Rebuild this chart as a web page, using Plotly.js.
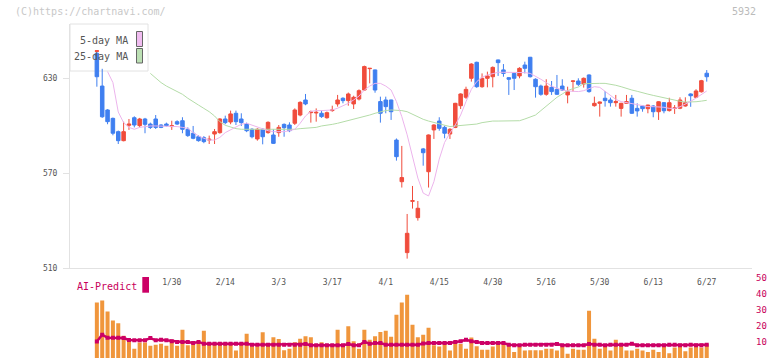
<!DOCTYPE html>
<html><head><meta charset="utf-8">
<script src="https://cdn.plot.ly/plotly-3.0.1.min.js"></script>
<style>html,body{margin:0;padding:0;background:#fff}#chart{width:772px;height:361px}</style>
</head><body><div id="chart"></div>
<script>
const dates = ['1/9','1/10','1/14','1/15','1/16','1/17','1/20','1/21','1/22','1/23','1/24','1/27','1/28','1/29','1/30','1/31',
'2/3','2/4','2/5','2/6','2/7','2/10','2/12','2/13','2/14',
'2/17','2/18','2/19','2/20','2/21','2/25','2/26','2/27','2/28',
'3/3','3/4','3/5','3/6','3/7','3/10','3/11','3/12','3/13','3/14',
'3/17','3/18','3/19','3/21','3/24','3/25','3/26','3/27','3/28','3/31',
'4/1','4/2','4/3','4/4','4/7','4/8','4/9','4/10','4/11','4/14',
'4/15','4/16','4/17','4/18','4/21','4/22','4/23','4/24','4/25','4/28',
'4/30','5/1','5/2','5/7','5/8','5/9','5/12','5/13','5/14','5/15',
'5/16','5/19','5/20','5/21','5/22','5/23','5/26','5/27','5/28','5/29',
'5/30','6/2','6/3','6/4','6/5','6/6','6/9','6/10','6/11','6/12',
'6/13','6/16','6/17','6/18','6/19','6/20','6/23','6/24','6/25','6/26','6/27'];

const tickLabels = ['1/30','2/14','3/3','3/17','4/1','4/15','4/30','5/16','5/30','6/13','6/27'];

// small red mark drawn over the first candle
const markDate = ['1/9'], markOpen = [647.0], markHigh = [647.6], markLow = [646.8], markClose = [647.4];

const open = [645.8,625.1,610.0,604.7,596.3,590.6,600.3,605.1,600.1,604.3,601.1,604.3,600.5,601.1,599.5,602.6,603.2,597.8,595.3,
593.1,592.5,591.0,594.8,595.7,604.3,602.4,607.9,604.3,601.1,597.8,591.7,597.8,595.7,594.2,595.7,600.9,600.5,601.6,606.8,
616.3,608.3,608.1,607.9,605.1,609.6,613.8,617.4,615.9,613.8,616.9,622.6,636.1,635.3,615.3,616.3,616.3,591.0,564.7,519.9,
552.3,542.0,585.4,571.0,597.4,603.0,599.0,594.8,599.0,612.7,618.0,630.0,640.1,624.7,630.0,631.0,641.6,635.3,630.4,633.1,
631.5,638.4,643.3,629.4,625.1,619.9,624.3,623.0,625.1,619.5,628.1,628.3,626.4,632.1,612.7,614.2,617.4,616.3,614.6,611.0,
614.2,617.4,611.0,612.5,610.8,612.5,608.9,614.6,609.6,611.0,611.1,612.5,620.1,618.0,621.5,633.2];
const high = [646.2,636.0,610.5,605.2,597.0,602.6,604.3,606.0,605.0,605.0,602.0,606.8,601.0,602.0,603.2,603.5,605.4,599.0,599.9,
594.0,593.5,593.8,598.0,604.8,606.4,609.6,609.6,607.9,602.0,598.5,598.5,598.5,602.8,597.8,600.5,601.5,602.2,611.0,615.5,
620.1,609.6,611.0,609.6,609.0,612.7,619.5,618.0,621.0,619.0,623.0,638.0,636.5,635.5,618.4,618.4,616.5,592.0,587.3,544.3,
562.0,552.5,586.0,594.5,601.0,605.4,600.0,598.5,614.5,620.5,624.7,639.5,640.5,633.1,634.2,637.5,641.8,639.0,630.8,634.0,
637.0,640.5,643.5,630.0,626.0,629.4,628.3,632.1,629.4,624.7,628.5,630.0,630.5,632.5,618.4,615.3,622.0,617.8,619.5,614.5,
619.5,619.5,614.2,613.1,613.3,613.0,615.5,615.0,617.7,613.1,618.0,618.0,620.5,623.1,629.0,635.2];
const low = [624.7,605.0,601.0,594.0,588.5,590.2,597.4,599.0,599.0,595.3,598.0,598.0,598.5,599.5,597.4,600.5,595.3,593.0,591.5,
590.0,589.0,588.5,588.5,595.0,601.0,601.0,600.5,599.9,596.0,592.1,590.6,588.3,595.0,588.5,593.1,593.1,596.0,600.5,606.0,
613.0,602.0,602.6,605.0,604.5,608.9,612.1,614.2,612.7,610.6,616.0,622.0,626.8,620.9,602.0,607.9,603.7,578.0,561.0,516.1,
547.7,540.1,574.8,561.0,591.7,596.9,592.1,591.7,598.5,610.6,617.0,627.9,624.0,624.0,624.3,624.3,631.5,631.0,619.5,622.6,
630.0,633.1,630.5,617.8,619.0,619.0,619.5,619.5,622.0,614.2,621.6,625.1,624.1,620.9,612.1,605.8,612.1,612.1,612.1,605.8,
614.0,607.5,605.8,608.9,607.9,605.4,603.7,607.9,609.0,607.5,610.5,612.1,612.0,617.5,621.0,627.9];
const close = [631.0,605.7,602.6,595.3,590.6,596.3,601.1,600.5,604.3,600.9,599.0,599.0,599.0,600.1,600.1,601.1,597.8,593.8,592.1,
590.6,590.0,591.5,596.3,604.3,602.0,607.5,602.6,602.0,596.9,593.1,597.8,593.1,602.2,588.9,599.0,598.8,596.9,610.0,614.8,
613.8,608.7,608.5,605.8,608.3,610.0,616.3,615.9,620.1,618.0,622.2,637.4,636.3,622.6,607.9,612.1,608.9,580.5,567.3,532.1,
552.7,547.9,583.0,594.2,600.5,598.4,595.3,597.8,614.2,620.1,623.0,639.0,624.7,630.0,631.5,636.9,639.9,633.1,629.4,630.0,
636.3,636.3,631.0,624.7,619.9,625.1,621.6,619.9,622.6,621.6,628.3,626.2,630.0,621.6,614.2,615.0,615.9,614.6,615.3,614.2,
615.3,607.9,609.4,610.8,613.1,608.9,615.2,609.5,614.6,611.3,616.3,614.6,619.0,622.0,628.5,631.0];

const ma5 = [null,null,634.2,627.3,608.7,602.0,599.0,597.8,599.0,599.5,599.9,599.9,599.9,599.9,599.9,599.5,599.0,598.4,595.7,
593.6,592.1,591.0,591.0,592.7,595.7,597.6,599.5,601.0,601.6,600.5,599.5,598.4,596.9,596.3,596.3,596.3,596.9,597.8,601.6,
606.2,609.1,609.6,609.6,609.6,610.0,611.1,612.5,614.2,616.3,618.8,622.6,625.1,626.8,626.8,625.1,622.6,615.3,605.8,594.3,
580.5,567.0,557.5,555.7,564.7,579.0,589.5,595.5,600.5,606.8,615.3,623.0,627.9,630.6,632.1,633.1,633.8,633.8,633.8,633.8,
633.8,633.6,633.1,631.5,629.4,627.3,625.1,623.7,622.6,622.0,621.6,621.6,622.2,623.7,624.7,624.3,621.6,618.8,616.7,615.3,
614.6,613.8,613.1,612.5,612.1,612.1,612.1,611.7,611.0,611.0,612.0,613.6,615.5,617.5,619.6,622.0];
const ma25 = [null,null,null,null,null,null,null,null,null,null,633.1,630.0,627.3,625.1,623.5,622.0,619.9,617.4,615.0,
613.1,611.0,608.9,606.2,602.6,600.3,599.0,598.2,597.8,597.8,597.8,597.6,597.6,597.5,597.5,597.5,597.5,597.6,597.8,598.2,
598.4,598.8,599.0,599.9,600.3,600.9,601.6,602.4,603.3,604.1,604.9,605.8,606.8,607.9,608.9,609.6,610.0,610.0,609.6,608.9,
607.2,605.4,604.1,603.0,602.0,601.1,600.3,599.5,599.9,600.1,600.3,600.5,601.1,602.0,602.6,603.0,603.0,603.0,603.0,603.0,
603.2,604.3,605.6,606.8,609.6,612.5,615.3,618.0,620.1,622.2,623.5,624.5,626.6,626.8,626.8,626.8,626.8,626.4,625.6,624.7,
623.5,622.6,621.8,621.1,620.0,619.2,618.4,617.6,616.9,616.2,615.5,615.0,614.9,615.2,615.6,616.1];

const volume = [34.6,35.8,28.9,23.4,21.7,13.9,11.4,5.8,9.7,9.7,7.6,8.3,8.9,7.6,11.4,7.6,17.6,7.9,8.3,
8.7,17.0,9.3,9.3,9.3,8.7,8.3,4.6,8.9,15.1,7.3,7.3,16.0,8.9,12.9,11.8,4.8,5.8,9.8,12.0,
13.5,12.9,7.9,9.8,7.9,7.9,17.6,7.9,19.7,10.4,5.8,17.6,11.4,13.5,16.2,17.0,13.3,26.9,34.6,39.4,
20.7,12.9,14.5,18.9,7.9,7.1,8.7,4.6,10.0,8.7,5.8,12.7,7.3,5.2,5.2,7.1,8.7,8.7,8.7,3.7,
7.1,4.6,4.8,4.8,4.8,5.8,5.8,4.6,7.3,2.7,5.8,5.2,5.2,29.4,12.0,5.8,7.9,4.6,11.4,8.3,
4.6,4.6,5.8,4.6,3.7,5.2,3.7,8.7,2.9,6.6,8.7,4.2,6.6,8.3,6.6,8.7];
const aiPredict = [10.3,14.5,12.6,12.6,12.6,12.4,11.2,11.0,11.0,11.0,12.4,11.0,11.4,11.0,10.4,10.0,10.0,10.0,9.3,
10.0,8.9,8.9,8.9,8.9,8.9,8.9,8.9,8.9,8.9,8.3,8.3,8.3,8.3,8.3,8.3,8.3,8.3,8.3,8.3,
8.7,7.9,7.9,7.9,7.9,7.9,7.9,7.9,8.7,7.9,7.9,10.0,8.9,9.3,9.3,8.3,8.3,8.3,8.3,8.3,
8.3,8.3,9.0,9.3,9.3,9.3,9.3,9.3,10.0,10.4,11.4,10.4,10.0,9.3,9.3,9.3,9.3,9.3,8.3,7.9,
7.9,8.3,8.3,8.3,8.3,8.3,8.3,8.7,7.9,7.9,7.9,7.9,7.9,8.7,8.3,8.3,7.9,8.3,8.3,8.3,
8.3,8.9,7.9,7.9,7.9,7.9,7.9,7.9,8.3,8.3,7.9,7.9,8.3,7.9,7.9,8.3];

const MONO = 'DejaVu Sans Mono, monospace';
const RED = '#f04c3c', BLUE = '#3f7ff0';
const candleStyle = {
  increasing:{line:{color:RED, width:1}, fillcolor:RED},
  decreasing:{line:{color:BLUE, width:1}, fillcolor:BLUE},
  whiskerwidth:0, hoverinfo:'skip'
};

const traces = [
  {type:'scatter', mode:'lines', x:dates, y:ma25, xaxis:'x', yaxis:'y',
   line:{color:'#b4dca8', width:1}, hoverinfo:'skip', connectgaps:false},
  {type:'scatter', mode:'lines', x:dates, y:ma5, xaxis:'x', yaxis:'y',
   line:{color:'#ecb4ec', width:1}, hoverinfo:'skip', connectgaps:false},
  Object.assign({type:'candlestick', x:dates, open:open, high:high, low:low, close:close, xaxis:'x', yaxis:'y'}, candleStyle),
  Object.assign({type:'candlestick', x:markDate, open:markOpen, high:markHigh, low:markLow, close:markClose, xaxis:'x', yaxis:'y'}, candleStyle),
  {type:'bar', x:dates, y:volume, xaxis:'x', yaxis:'y2', width:0.75,
   marker:{color:'#f0963c', line:{width:0}}, hoverinfo:'skip'},
  {type:'scatter', mode:'lines+markers', x:dates, y:aiPredict, xaxis:'x', yaxis:'y2',
   line:{color:'#cc0066', width:2.5}, marker:{symbol:'square', size:4, color:'#cc0066'}, hoverinfo:'skip'}
];

const PX = px => (px-70)/682;
const PY = py => (358-py)/334;

const layout = {
  width:772, height:361,
  margin:{l:70, r:20, t:24, b:3},
  paper_bgcolor:'#fff', plot_bgcolor:'rgba(0,0,0,0)',
  showlegend:false, boxgap:0.06, boxmode:'overlay',
  xaxis:{type:'category', categoryorder:'array', categoryarray:dates, range:[-5.02,122.46],
    rangeslider:{visible:false},
    anchor:'y', domain:[0,1], showline:true, linecolor:'#e2e2e2', linewidth:1,
    ticks:'', tickmode:'array', tickvals:tickLabels, ticktext:tickLabels,
    tickfont:{family:MONO, size:8, color:'#555'}, ticklabelstandoff:6,
    showgrid:false, zeroline:false, fixedrange:true},
  xaxis3:{overlaying:'x', anchor:'y', range:[0,11], tickmode:'array', tickvals:[0,1,2,3,4,5,6,7,8,9,10,11],
    ticks:'outside', ticklen:5, tickcolor:'#e2e2e2', tickwidth:1, showticklabels:false,
    showline:false, showgrid:false, zeroline:false, fixedrange:true},
  xaxis4:{overlaying:'x', anchor:'y', range:[0,11], tickmode:'array', tickvals:[0,1,2,3,4,5,6,7,8,9,10,11],
    ticks:'inside', ticklen:3, tickcolor:'#e2e2e2', tickwidth:1, showticklabels:false,
    showline:false, showgrid:false, zeroline:false, fixedrange:true},
  yaxis:{domain:[0.2686,1], range:[510,664.3], anchor:'x', tickmode:'array', tickvals:[510,570,630],
    ticks:'outside', ticklen:6, tickcolor:'#e2e2e2', showline:true, linecolor:'#e2e2e2', linewidth:1,
    tickfont:{family:MONO, size:8, color:'#555'}, ticklabelstandoff:4,
    showgrid:false, zeroline:false, fixedrange:true},
  yaxis2:{domain:[0,0.2404], range:[0,50], anchor:'x', side:'right', tickmode:'array', tickvals:[0,10,20,30,40,50],
    ticks:'', showline:false, showgrid:false, zeroline:false,
    tickfont:{family:MONO, size:9, color:'#c8005a'}, ticklabelstandoff:3, fixedrange:true},
  shapes:[
    {type:'rect', xref:'paper', yref:'paper', x0:0, x1:PX(148), y0:PY(71), y1:PY(24),
     fillcolor:'#fff', line:{color:'#e2e2e2', width:1}, layer:'below'},
    {type:'rect', xref:'paper', yref:'paper', x0:PX(136.5), x1:PX(142.5), y0:PY(46.5), y1:PY(31.5),
     fillcolor:'#f0bcf0', line:{color:'#666', width:1}, layer:'below'},
    {type:'rect', xref:'paper', yref:'paper', x0:PX(136.5), x1:PX(142.5), y0:PY(63), y1:PY(48.5),
     fillcolor:'#bce0b4', line:{color:'#666', width:1}, layer:'below'},
    {type:'rect', xref:'paper', yref:'paper', x0:PX(142.3), x1:PX(149), y0:PY(292.7), y1:PY(277),
     fillcolor:'#cc0066', line:{width:0}, layer:'above'}
  ],
  annotations:[
    {text:'(C)https://chartnavi.com/', xref:'paper', yref:'paper', x:PX(13), y:PY(12), xanchor:'left', yanchor:'middle',
     showarrow:false, font:{family:MONO, size:10, color:'#c8c8c8'}},
    {text:'5932', xref:'paper', yref:'paper', x:PX(758), y:PY(12), xanchor:'right', yanchor:'middle',
     showarrow:false, font:{family:MONO, size:10, color:'#bbb'}},
    {text:'5-day MA', xref:'paper', yref:'paper', x:PX(130), y:PY(40), xanchor:'right', yanchor:'middle',
     showarrow:false, font:{family:MONO, size:10, color:'#555'}},
    {text:'25-day MA', xref:'paper', yref:'paper', x:PX(130), y:PY(57), xanchor:'right', yanchor:'middle',
     showarrow:false, font:{family:MONO, size:10, color:'#555'}},
    {text:'AI-Predict', xref:'paper', yref:'paper', x:PX(75), y:PY(286), xanchor:'left', yanchor:'middle',
     showarrow:false, font:{family:MONO, size:10, color:'#c8005a'}}
  ]
};

Plotly.newPlot('chart', traces, layout, {staticPlot:true, displayModeBar:false});
</script>
</body></html>
